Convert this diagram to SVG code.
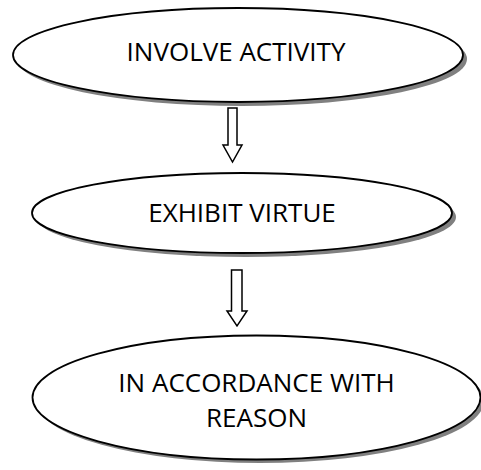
<svg xmlns="http://www.w3.org/2000/svg" width="481" height="470" viewBox="0 0 481 470">
<style>
.shadow{fill:#808080;stroke:none}
.node{fill:#ffffff;stroke:#000000;stroke-width:1.8}
.label{font-family:"Open Sans","Noto Sans",sans-serif;font-size:26px;fill:#000000;text-anchor:middle}
.arrow{fill:#ffffff;stroke:#000000;stroke-width:1.5;stroke-linejoin:miter}
</style>
<rect width="481" height="470" fill="#ffffff"/>
<g id="node-involve">
<ellipse class="shadow" cx="242" cy="59" rx="225" ry="47"/>
<ellipse class="node" cx="238" cy="55" rx="225" ry="47"/>
<text class="label" x="236" y="61">INVOLVE ACTIVITY</text>
</g>
<g id="node-virtue">
<ellipse class="shadow" cx="246" cy="217" rx="210" ry="40"/>
<ellipse class="node" cx="242" cy="213" rx="210" ry="40"/>
<text class="label" x="242" y="222">EXHIBIT VIRTUE</text>
</g>
<g id="node-reason">
<ellipse class="shadow" cx="260" cy="401" rx="224" ry="62"/>
<ellipse class="node" cx="256.5" cy="397.5" rx="224" ry="62"/>
<text class="label" x="256.5" y="392">IN ACCORDANCE WITH</text>
<text class="label" x="256.5" y="427">REASON</text>
</g>
<g id="connectors">
<path class="arrow" d="M228,108 L237,108 L237,145 L242,145 L232.5,162 L223,145 L228,145 Z"/>
<path class="arrow" d="M231.5,270 L242,270 L242,311 L247,311 L237,326 L227,311 L231.5,311 Z"/>
</g>
</svg>
